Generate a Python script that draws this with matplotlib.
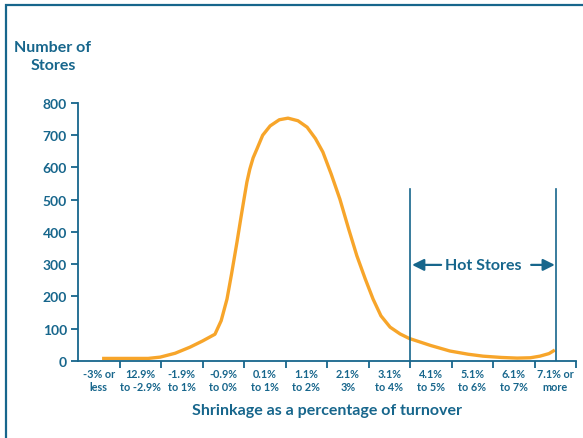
import numpy as np
import matplotlib.pyplot as plt
from matplotlib.patches import Rectangle

plt.rcParams['font.family'] = ['Lato', 'DejaVu Sans']

teal = '#17668c'
orange = '#f7a52a'

categories = ['-3% or\nless', '12.9%\nto -2.9%', '-1.9%\nto 1%', '-0.9%\nto 0%',
              '0.1%\nto 1%', '1.1%\nto 2%', '2.1%\n3%', '3.1%\nto 4%',
              '4.1%\nto 5%', '5.1%\nto 6%', '6.1%\nto 7%', '7.1% or\nmore']

# curve (x in category units, 0..12)
curve_x = [0.58, 1.0, 1.69, 1.98, 2.34, 2.70, 3.00, 3.30, 3.45, 3.59, 3.70, 3.83,
           3.92, 4.00, 4.07, 4.14, 4.22, 4.31, 4.45, 4.63, 4.85, 5.06, 5.30,
           5.52, 5.72, 5.90, 6.10, 6.31, 6.52, 6.72, 6.92, 7.11, 7.30, 7.52,
           7.76, 7.98, 8.50, 8.96, 9.40, 9.76, 10.20, 10.58, 10.90, 11.13,
           11.35, 11.49]
curve_y = [8, 8, 8, 12, 24, 43, 62, 83, 125, 192, 270, 368,
           440, 502, 555, 595, 630, 657, 700, 729, 748, 753, 745,
           725, 690, 648, 580, 502, 410, 326, 255, 192, 140, 105,
           84, 70, 48, 31, 21, 15, 11, 9, 10, 15,
           23, 34]

hot_left = 8.0
hot_right = 11.52
hot_top = 533
arrow_y = 298

fig = plt.figure(figsize=(5.83, 4.39), dpi=100)
ax = fig.add_axes([0.1338, 0.1754, 0.8542, 0.5877])

ax.plot(curve_x, curve_y, color=orange, lw=2.4, solid_capstyle='butt',
        solid_joinstyle='round')

ax.set_xlim(0, 12)
ax.set_ylim(0, 800)

for s in ['top', 'right']:
    ax.spines[s].set_visible(False)
for s in ['left', 'bottom']:
    ax.spines[s].set_color(teal)
    ax.spines[s].set_linewidth(1.3)

ax.set_yticks(np.arange(0, 801, 100))
ax.set_yticklabels([str(v) for v in range(0, 801, 100)])
ax.set_xticks(np.arange(1, 13))
ax.set_xticklabels([])
ax.set_xticks(np.arange(12) + 0.5, minor=True)
ax.set_xticklabels(categories, minor=True)
ax.tick_params(axis='y', colors=teal, length=5, width=1.3, pad=3, labelsize=10)
ax.tick_params(axis='x', which='major', colors=teal, length=5, width=1.3)
ax.tick_params(axis='x', which='minor', length=0, pad=5, labelsize=7.8,
               labelcolor=teal)
for lab in ax.get_yticklabels() + ax.get_xticklabels(minor=True):
    lab.set_fontweight('bold')
for lab in ax.get_xticklabels(minor=True):
    lab.set_linespacing(1.2)

ax.set_xlabel('Shrinkage as a percentage of turnover', color=teal,
              fontsize=11.5, fontweight='bold', labelpad=8)

# hot stores bracket
ax.plot([hot_left, hot_left], [0, hot_top], color=teal, lw=1.2)
ax.plot([hot_right, hot_right], [0, hot_top], color=teal, lw=1.2)
ax.text((hot_left + hot_right) / 2, arrow_y, 'Hot Stores', color=teal,
        fontsize=11.5, fontweight='bold', ha='center', va='center')
aprops = dict(arrowstyle='-|>,head_length=0.7,head_width=0.35', color=teal,
              lw=1.6, shrinkA=0, shrinkB=0)
ax.annotate('', xy=(hot_left + 0.05, arrow_y), xytext=(hot_left + 0.75, arrow_y),
            arrowprops=aprops)
ax.annotate('', xy=(hot_right - 0.03, arrow_y), xytext=(hot_right - 0.6, arrow_y),
            arrowprops=aprops)

fig.text(53 / 583, 1 - 57 / 439, 'Number of\nStores', color=teal, fontsize=11.5,
         fontweight='bold', ha='center', va='center', linespacing=1.3)

# outer frame
fig.patches.append(Rectangle((6 / 583, -0.1), 1.2, 1 - 6 / 439 + 0.1,
                             transform=fig.transFigure, fill=False,
                             edgecolor=teal, lw=1.6))

fig.savefig('out.png', dpi=100)
